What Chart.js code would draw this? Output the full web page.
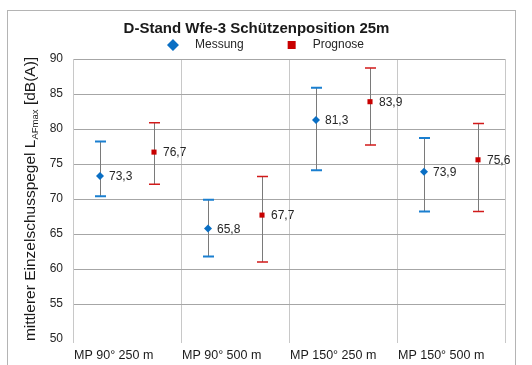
<!DOCTYPE html>
<html>
<head>
<meta charset="utf-8">
<script src="https://cdn.jsdelivr.net/npm/chart.js@4/dist/chart.umd.min.js"></script>
<style>
  body { margin: 0; background: #fff; }
  #frame { position: absolute; left: 7px; top: 10px; width: 509px; height: 362px; border: 1px solid #b4b4b4; box-sizing: border-box; }
  #chart { position: absolute; left: 8px; top: 11px; }
</style>
</head>
<body>
<div id="frame"></div>
<canvas id="chart" width="519" height="358"></canvas>
<script>
// categories and values
const categories = ['MP 90° 250 m', 'MP 90° 500 m', 'MP 150° 250 m', 'MP 150° 500 m'];
const messung = [73.3, 65.8, 81.3, 73.9];
const messungMin = [70.4, 61.8, 74.1, 68.2];
const messungMax = [78.2, 69.9, 85.9, 78.7];
const prognose = [76.7, 67.7, 83.9, 75.6];
const prognoseMin = [72.1, 61.0, 77.7, 68.2];
const prognoseMax = [80.9, 73.2, 88.7, 80.8];
const yMin = 50;
const yMax = 90;
const yStep = 5;

const FONT = "'Liberation Sans', Arial, sans-serif";
const BLUE = '#0a6fc4';
const RED = '#c80000';

// each series sits left / right inside its category slot
const toPoints = (values, lo, hi, offset) =>
  values.map((v, i) => ({ x: i + offset, y: v, lo: lo[i], hi: hi[i] }));

const fmt = (v) => v.toFixed(1).replace('.', ',');

// whiskers under the markers
const errorBars = {
  id: 'errorBars',
  beforeDatasetsDraw(chart) {
    const ctx = chart.ctx;
    const y = chart.scales.y;
    chart.data.datasets.forEach((ds, di) => {
      const meta = chart.getDatasetMeta(di);
      meta.data.forEach((pt, i) => {
        const raw = ds.data[i];
        const yHi = y.getPixelForValue(raw.hi);
        const yLo = y.getPixelForValue(raw.lo);
        ctx.save();
        ctx.strokeStyle = '#7a7a7a';
        ctx.lineWidth = 1;
        ctx.beginPath();
        ctx.moveTo(Math.round(pt.x) + 0.5, yHi);
        ctx.lineTo(Math.round(pt.x) + 0.5, yLo);
        ctx.stroke();
        ctx.strokeStyle = ds.capColor;
        ctx.lineWidth = ds.capWidth;
        ctx.beginPath();
        ctx.moveTo(pt.x - 5, yHi);
        ctx.lineTo(pt.x + 6, yHi);
        ctx.moveTo(pt.x - 5, yLo);
        ctx.lineTo(pt.x + 6, yLo);
        ctx.stroke();
        ctx.restore();
      });
    });
  }
};

// value labels, legend and y title with subscript
const extras = {
  id: 'extras',
  afterDatasetsDraw(chart) {
    const ctx = chart.ctx;
    ctx.save();
    ctx.font = '12px ' + FONT;
    ctx.fillStyle = '#262626';
    ctx.textBaseline = 'middle';
    chart.data.datasets.forEach((ds, di) => {
      chart.getDatasetMeta(di).data.forEach((pt, i) => {
        ctx.fillText(fmt(ds.data[i].y), pt.x + 9, pt.y + 1);
      });
    });
    ctx.restore();
  },
  afterDraw(chart) {
    const ctx = chart.ctx;
    const area = chart.chartArea;

    // legend
    ctx.save();
    ctx.font = '12px ' + FONT;
    ctx.fillStyle = '#262626';
    ctx.textBaseline = 'middle';
    const ly = 34;
    const items = chart.data.datasets.map(ds => ({ ds, w: ctx.measureText(ds.label).width }));
    const total = 6 + 22 + items[0].w + 48 + 21 + items[1].w;
    let x = chart.width / 2 - total / 2 - 2 + 6;
    items.forEach((it, k) => {
      ctx.fillStyle = it.ds.backgroundColor;
      ctx.beginPath();
      if (it.ds.pointStyle === 'rectRot') {
        ctx.moveTo(x, ly - 6);
        ctx.lineTo(x + 6, ly);
        ctx.lineTo(x, ly + 6);
        ctx.lineTo(x - 6, ly);
        ctx.closePath();
        ctx.fill();
      } else {
        ctx.fillRect(x - 4, ly - 4, 8, 8);
      }
      ctx.fillStyle = '#262626';
      const tx = x + (k === 0 ? 22 : 21);
      ctx.fillText(it.ds.label, tx, ly);
      x = tx + it.w + 48;
    });
    ctx.restore();

    // y axis title
    ctx.save();
    const cx = 23;
    const cy = (area.top + area.bottom) / 2;
    ctx.translate(cx, cy);
    ctx.rotate(-Math.PI / 2);
    ctx.fillStyle = '#1a1a1a';
    ctx.textBaseline = 'middle';
    const parts = [
      { t: 'mittlerer Einzelschusspegel L', f: '15.5px ' + FONT, dy: 0 },
      { t: 'AFmax', f: '9.5px ' + FONT, dy: 4 },
      { t: ' [dB(A)]', f: '15.5px ' + FONT, dy: 0 }
    ];
    let w = 0;
    parts.forEach(p => { ctx.font = p.f; p.w = ctx.measureText(p.t).width; w += p.w; });
    let px = -w / 2;
    parts.forEach(p => {
      ctx.font = p.f;
      ctx.fillText(p.t, px, p.dy);
      px += p.w;
    });
    ctx.restore();
  }
};

const ctx = document.getElementById('chart').getContext('2d');
const chart = new Chart(ctx, {
  type: 'scatter',
  data: {
    datasets: [
      {
        label: 'Messung',
        data: toPoints(messung, messungMin, messungMax, 0.25),
        pointStyle: 'rectRot',
        pointRadius: 4,
        backgroundColor: BLUE,
        borderColor: BLUE,
        borderWidth: 0,
        capColor: '#1a7fd0',
        capWidth: 2
      },
      {
        label: 'Prognose',
        data: toPoints(prognose, prognoseMin, prognoseMax, 0.75),
        pointStyle: 'rect',
        pointRadius: 3.6,
        backgroundColor: RED,
        borderColor: RED,
        borderWidth: 0,
        capColor: '#d21a1a',
        capWidth: 1.5
      }
    ]
  },
  options: {
    responsive: false,
    animation: false,
    events: [],
    layout: { padding: { left: 0, right: 22, top: 0, bottom: 0 } },
    scales: {
      x: {
        type: 'linear',
        min: 0,
        max: categories.length,
        afterFit: (scale) => { scale.height = 30; },
        grid: {
          color: '#c8c8c8',
          tickColor: '#c8c8c8',
          tickLength: 4
        },
        border: { display: false },
        ticks: {
          stepSize: 1,
          autoSkip: false,
          maxRotation: 0,
          align: 'start',
          labelOffset: 1,
          padding: 5,
          color: '#1a1a1a',
          font: { family: FONT, size: 12.5 },
          // category name sits right of its left boundary
          callback: (value) => categories[value] || ''
        }
      },
      y: {
        min: yMin,
        max: yMax,
        afterFit: (scale) => { scale.width = 65; },
        grid: {
          color: (c) => (c.tick && c.tick.value === yMin ? 'rgba(0,0,0,0)' : '#a6a6a6'),
          drawTicks: false
        },
        border: { color: '#c8c8c8' },
        ticks: {
          stepSize: yStep,
          padding: 10,
          color: '#262626',
          font: { family: FONT, size: 12 }
        }
      }
    },
    plugins: {
      legend: { display: false },
      tooltip: { enabled: false },
      title: {
        display: true,
        text: 'D-Stand Wfe-3 Schützenposition 25m',
        color: '#1a1a1a',
        font: { family: FONT, size: 15, weight: 'bold' },
        padding: { top: 9, bottom: 21 }
      }
    }
  },
  plugins: [errorBars, extras]
});
</script>
</body>
</html>
